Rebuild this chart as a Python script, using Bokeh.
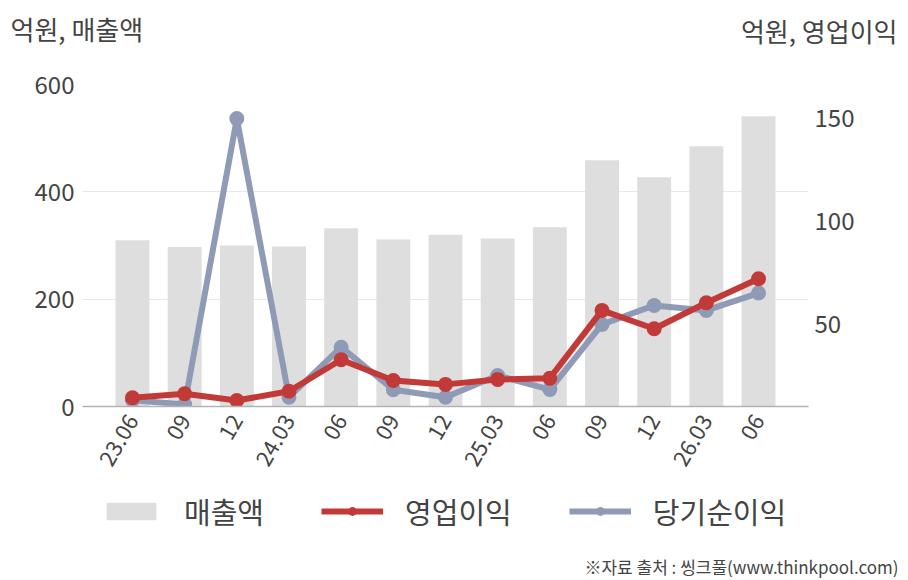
import math
from bokeh.plotting import figure
from bokeh.layouts import column
from bokeh.models import (LinearAxis, Range1d, FixedTicker, Legend, LegendItem,
                          ColumnDataSource)
from bokeh.core.properties import value
from bokeh.embed import file_html
from bokeh.resources import INLINE

periods = ["23.06", "09", "12", "24.03", "06", "09", "12", "25.03", "06", "09", "12", "26.03", "06"]
sales = [310, 297, 300, 298, 332, 311, 320, 313, 334, 459, 427, 485, 541]
op_income = [14.5, 16.5, 13.2, 17.7, 32.9, 22.9, 21.0, 23.4, 24.0, 56.8, 47.9, 60.5, 72.1]
net_income = [13.3, 11.3, 149.6, 14.8, 39.0, 18.4, 14.8, 25.3, 18.5, 50.0, 59.2, 56.8, 65.2]
left_ticks = [0, 200, 400, 600]
right_ticks = [50, 100, 150]
series_names = ["매출액", "영업이익", "당기순이익"]
left_title = "억원, 매출액"
right_title = "억원, 영업이익"
source_note = "※자료 출처 : 씽크풀(www.thinkpool.com)"

FONT = "Noto Sans CJK KR"
TXT = "#444444"
BAR = "#dedede"
RED = "#c23a38"
BLUE = "#8f9bb6"
W = 908


def blank(h):
    f = figure(width=W, height=h, output_backend="svg", toolbar_location=None,
               x_range=Range1d(0, W), y_range=Range1d(0, h),
               x_axis_type=None, y_axis_type=None, frame_align=False,
               min_border=0, min_border_left=0, min_border_right=0,
               min_border_top=0, min_border_bottom=0)
    f.outline_line_color = None
    f.background_fill_color = "white"
    return f


# ---------- header ----------
HH = 60
head = blank(HH)
head.text(x=[10], y=[HH - 28], text=[left_title], text_font=value(FONT), text_font_size="26px",
          text_color=TXT, text_baseline="middle", text_align="left")
head.text(x=[897], y=[HH - 30], text=[right_title], text_font=value(FONT), text_font_size="26px",
          text_color=TXT, text_baseline="middle", text_align="right")

# ---------- main chart ----------
idx = list(range(len(periods)))
src = ColumnDataSource(dict(x=idx, sales=sales, op=op_income, net=net_income))

p = figure(width=W, height=420, output_backend="svg", toolbar_location=None, frame_align=False,
           x_range=Range1d(-0.958, len(periods) - 1 + 0.958),
           y_range=Range1d(0, 600),
           min_border_left=82, min_border_right=100, min_border_top=24, min_border_bottom=74)
p.extra_y_ranges = {"right": Range1d(10.3, 166.1)}
p.outline_line_color = None
p.xgrid.grid_line_color = None
p.ygrid.grid_line_color = "#e8e8e8"
p.ygrid.grid_line_width = 1
p.ygrid.ticker = FixedTicker(ticks=left_ticks)

xa = p.xaxis[0]
xa.ticker = FixedTicker(ticks=idx)
xa.major_label_overrides = {i: s for i, s in zip(idx, periods)}
xa.major_label_orientation = math.pi / 3
xa.major_tick_line_color = None
xa.minor_tick_line_color = None
xa.axis_line_color = "#b3b3b3"
xa.axis_line_width = 1.5
xa.major_label_text_font = FONT
xa.major_label_text_font_size = "22px"
xa.major_label_text_color = TXT
xa.major_label_standoff = 4

ya = p.yaxis[0]
ya.ticker = FixedTicker(ticks=left_ticks)
ya.axis_line_color = None
ya.major_tick_line_color = None
ya.minor_tick_line_color = None
ya.major_label_text_font = FONT
ya.major_label_text_font_size = "24px"
ya.major_label_text_color = TXT
ya.major_label_standoff = 2

ra = LinearAxis(y_range_name="right", ticker=FixedTicker(ticks=right_ticks))
ra.axis_line_color = None
ra.major_tick_line_color = None
ra.minor_tick_line_color = None
ra.major_label_text_font = FONT
ra.major_label_text_font_size = "24px"
ra.major_label_text_color = TXT
ra.major_label_standoff = 0
p.add_layout(ra, "right")

p.vbar(x="x", top="sales", width=0.65, source=src, fill_color=BAR, line_color=None)
p.line("x", "net", source=src, y_range_name="right", line_color=BLUE, line_width=6)
p.scatter("x", "net", source=src, y_range_name="right", size=15, fill_color=BLUE, line_color=None)
p.line("x", "op", source=src, y_range_name="right", line_color=RED, line_width=6)
p.scatter("x", "op", source=src, y_range_name="right", size=15, fill_color=RED, line_color=None)

# ---------- footer: legend + source ----------
FH = 100
foot = blank(FH)
# legend-only renderers: a single point far outside the footer's visible range
dummy = ColumnDataSource(dict(x=[-1000], y=[-1000], top=[-1000]))
lb = foot.vbar(x="x", top="top", width=1, source=dummy, fill_color=BAR, line_color=None)
lrl = foot.line("x", "y", source=dummy, line_color=RED, line_width=6)
lrs = foot.scatter("x", "y", source=dummy, size=15, fill_color=RED, line_color=None)
lbl = foot.line("x", "y", source=dummy, line_color=BLUE, line_width=6)
lbs = foot.scatter("x", "y", source=dummy, size=15, fill_color=BLUE, line_color=None)
legend = Legend(items=[LegendItem(label=series_names[0], renderers=[lb]),
                       LegendItem(label=series_names[1], renderers=[lrl, lrs]),
                       LegendItem(label=series_names[2], renderers=[lbl, lbs])],
                orientation="horizontal", location=(100, 48),
                glyph_width=62, glyph_height=22, label_standoff=22, spacing=57,
                label_text_font=FONT, label_text_font_size="29px", label_text_color=TXT,
                label_text_baseline="middle",
                border_line_color=None, background_fill_alpha=0, padding=0, margin=0)
foot.add_layout(legend)
foot.text(x=[898], y=[14], text=[source_note], text_font=value(FONT), text_font_size="17px",
          text_color=TXT, text_baseline="middle", text_align="right")

layout = column(head, p, foot, spacing=0)
open("out.html", "w").write(file_html(layout, INLINE))
